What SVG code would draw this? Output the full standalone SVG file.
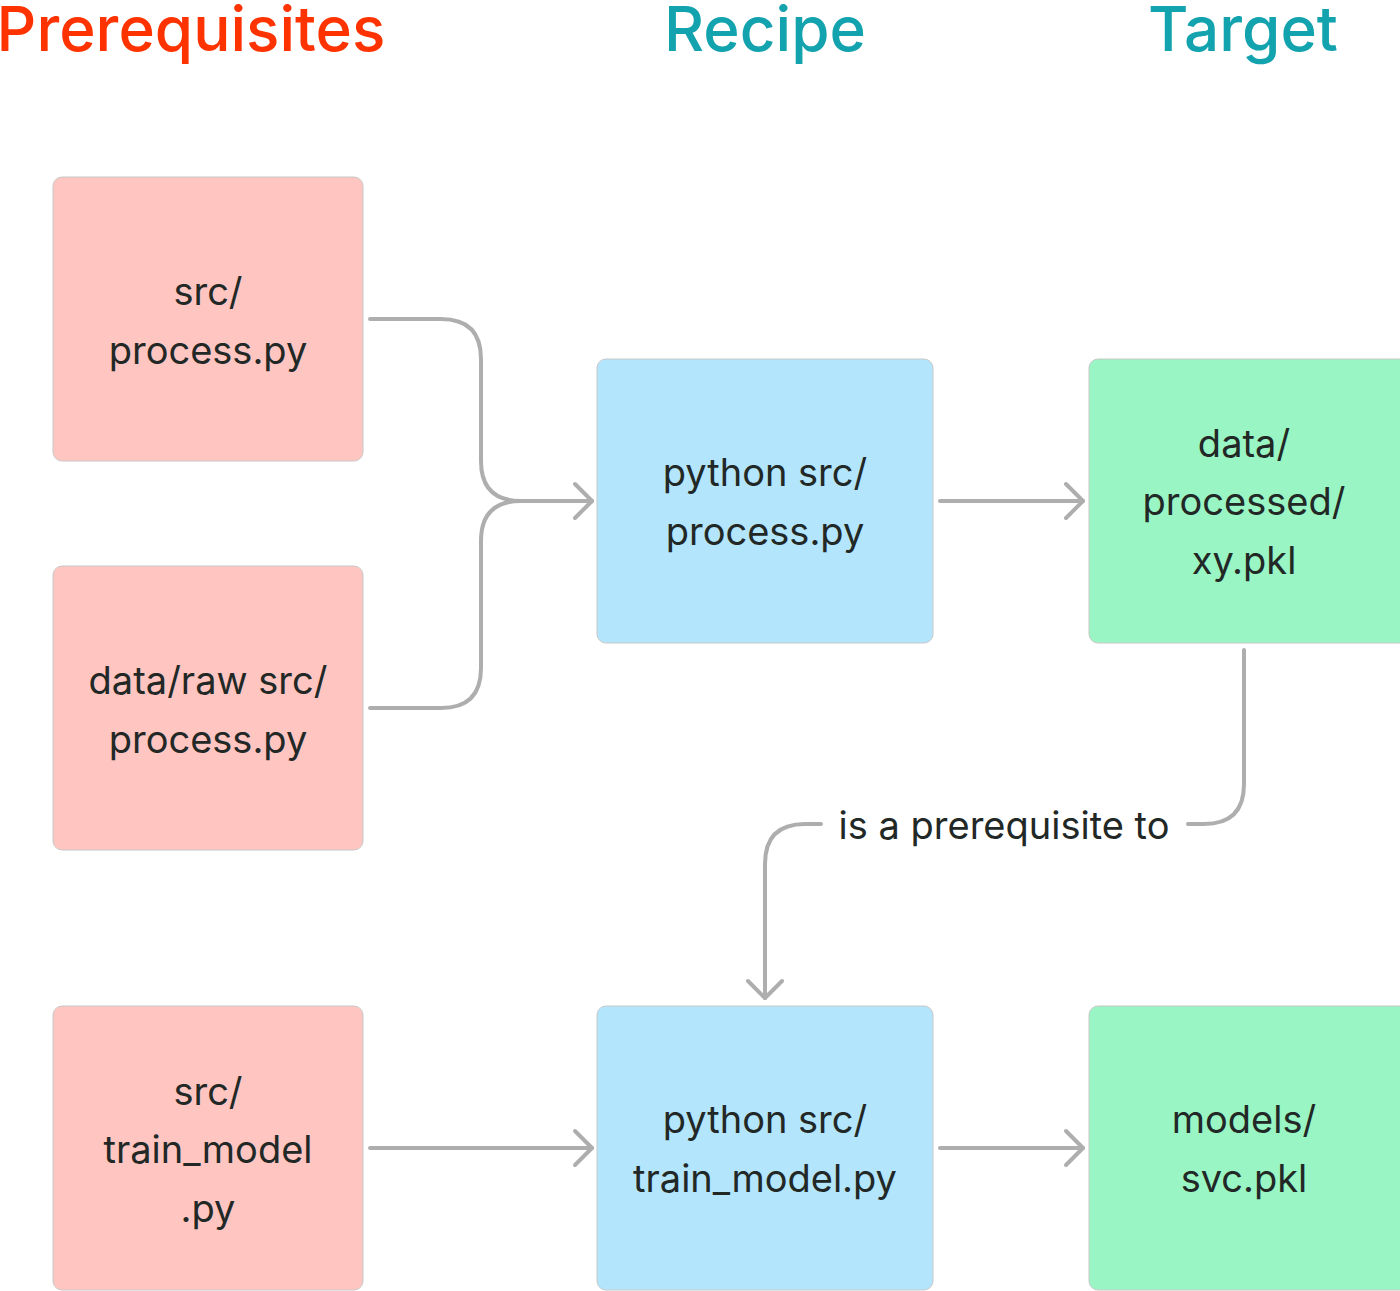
<svg xmlns="http://www.w3.org/2000/svg" width="1400" height="1291" viewBox="0 0 1400 1291">
<style>
.hdr{font-family:Inter,"Noto Sans",sans-serif;font-size:62px;font-weight:500;text-anchor:middle}
.lbl{font-family:Inter,"Noto Sans",sans-serif;font-size:38px;fill:#222826;text-anchor:middle}
.pre{fill:#FFC5C1}
.rec{fill:#B3E5FC}
.tgt{fill:#99F5C3}
.box{stroke:#C8C8C8;stroke-width:1}
.con{fill:none;stroke:#AEAEAE;stroke-width:4;stroke-linecap:round;stroke-linejoin:round}
</style>
<rect width="1400" height="1291" fill="#FFFFFF"/>
<g id="headers">
<text class="hdr" x="191" y="51" fill="#FF3300">Prerequisites</text>
<text class="hdr" x="765" y="51" fill="#13A3AE">Recipe</text>
<text class="hdr" x="1243" y="51" fill="#13A3AE">Target</text>
</g>
<g id="connectors">
<path class="con" d="M370 319 H441 Q481 319 481 359 V461 Q481 501 521 501 H592"/>
<path class="con" d="M370 708 H441 Q481 708 481 668 V541 Q481 501 521 501"/>
<path class="con" d="M575 484 L592 501 L575 518"/>
<path class="con" d="M940 501 H1083"/>
<path class="con" d="M1066 484 L1083 501 L1066 518"/>
<path class="con" d="M1244 650 V784 Q1244 824 1204 824 H1188"/>
<path class="con" d="M821 824 H805 Q765 824 765 864 V998"/>
<path class="con" d="M748 981 L765 998 L782 981"/>
<text class="lbl" x="1004" y="839">is a prerequisite to</text>
<path class="con" d="M370 1148 H592"/>
<path class="con" d="M575 1131 L592 1148 L575 1165"/>
<path class="con" d="M940 1148 H1083"/>
<path class="con" d="M1066 1131 L1083 1148 L1066 1165"/>
</g>
<g id="pre1"><rect class="pre box" x="53" y="177" width="310" height="284" rx="9"/>
<text class="lbl" x="208" y="305">src/</text><text class="lbl" x="208" y="364">process.py</text></g>
<g id="pre2"><rect class="pre box" x="53" y="566" width="310" height="284" rx="9"/>
<text class="lbl" x="208" y="694">data/raw src/</text><text class="lbl" x="208" y="753">process.py</text></g>
<g id="pre3"><rect class="pre box" x="53" y="1006" width="310" height="284" rx="9"/>
<text class="lbl" x="208" y="1105">src/</text><text class="lbl" x="208" y="1163">train_model</text><text class="lbl" x="208" y="1222">.py</text></g>
<g id="rec1"><rect class="rec box" x="597" y="359" width="336" height="284" rx="9"/>
<text class="lbl" x="765" y="486">python src/</text><text class="lbl" x="765" y="545">process.py</text></g>
<g id="rec2"><rect class="rec box" x="597" y="1006" width="336" height="284" rx="9"/>
<text class="lbl" x="765" y="1133">python src/</text><text class="lbl" x="765" y="1192">train_model.py</text></g>
<g id="tgt1"><rect class="tgt box" x="1089" y="359" width="320" height="284" rx="9"/>
<text class="lbl" x="1244" y="457">data/</text><text class="lbl" x="1244" y="515">processed/</text><text class="lbl" x="1244" y="574">xy.pkl</text></g>
<g id="tgt2"><rect class="tgt box" x="1089" y="1006" width="320" height="284" rx="9"/>
<text class="lbl" x="1244" y="1133">models/</text><text class="lbl" x="1244" y="1192">svc.pkl</text></g>
</svg>
